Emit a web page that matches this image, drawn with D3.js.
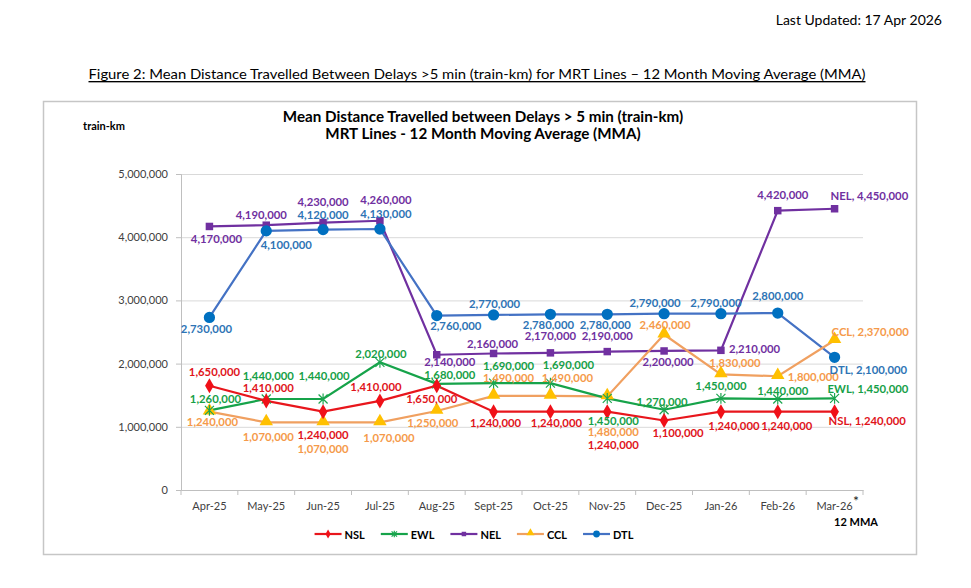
<!DOCTYPE html>
<html><head><meta charset="utf-8">
<script src="https://cdn.jsdelivr.net/npm/d3@7"></script>
<style>body{margin:0;background:#fff} svg{display:block}</style>
</head><body>
<svg id="c" width="971" height="588"></svg>
<script>
// ---------- DATA ----------
const months = ["Apr-25","May-25","Jun-25","Jul-25","Aug-25","Sept-25","Oct-25","Nov-25","Dec-25","Jan-26","Feb-26","Mar-26"];
const seriesNames = ["NSL","EWL","NEL","CCL","DTL"];
const nsl = [1650000,1410000,1240000,1410000,1650000,1240000,1240000,1240000,1100000,1240000,1240000,1240000];
const ewl = [1260000,1440000,1440000,2020000,1680000,1690000,1690000,1450000,1270000,1450000,1440000,1450000];
const nel = [4170000,4190000,4230000,4260000,2140000,2160000,2170000,2190000,2200000,2210000,4420000,4450000];
const ccl = [1240000,1070000,1070000,1070000,1250000,1490000,1490000,1480000,2460000,1830000,1800000,2370000];
const dtl = [2730000,4100000,4120000,4130000,2760000,2770000,2780000,2780000,2790000,2790000,2800000,2100000];
const yTicks = [0,1000000,2000000,3000000,4000000,5000000];

// ---------- STYLE / LABEL PLACEMENT ----------
const style = {
  NSL:{line:"#e8161c", marker:"#f01018", text:"#e0141b", shape:"diamond"},
  EWL:{line:"#16a34a", marker:"#1ca650", text:"#16a047", shape:"star"},
  NEL:{line:"#7030a0", marker:"#7030a0", text:"#7030a0", shape:"square"},
  CCL:{line:"#f0a060", marker:"#ffc000", text:"#f59a4a", shape:"triangle"},
  DTL:{line:"#4472c4", marker:"#0070c0", text:"#2e74b5", shape:"circle"}
};
// [dx, dy, anchor] relative to each point
const labelPos = {
  NSL:[[5,-14],[2,-13],[0,23],[-4,-14],[-5,13],[2,11],[6,11],[6,32.5],[14,12],[13,14],[9,14],[-6,9,"start"]],
  EWL:[[6,-12],[2,-23],[1,-23],[1,-9],[13,-9],[15,-18],[18,-19],[6,22],[-2,-8],[0,-13],[5,-8],[-7,-10,"start"]],
  NEL:[[7,12],[-5,-11],[0,-21.5],[6,-21.5],[13,7],[-1,-10],[0,-17],[0,-16],[4,11],[8,-2,"start"],[5,-16],[-4,-13,"start"]],
  CCL:[[3,10],[2,14],[0,26],[9,15],[-4,11],[15,-18],[17,-18],[6,35.5],[1,-10],[14,-12],[10,0,"start"],[-3,-9,"start"]],
  DTL:[[-3,11],[20,14],[0,-15],[6,-15.5],[19,10],[1,-11],[-2,10],[-2,10],[-9,-11],[-5,-11],[0,-18],[-5,12,"start"]]
};

const dataBy = {NSL:nsl, EWL:ewl, NEL:nel, CCL:ccl, DTL:dtl};
const svg = d3.select("#c");
const FONT = "Lato, 'Open Sans', sans-serif";
svg.style("font-family", FONT);

// header texts
svg.append("text").attr("x",942).attr("y",19).attr("text-anchor","end")
  .attr("dominant-baseline","central").attr("font-size",14).attr("fill","#000")
  .text("Last Updated: 17 Apr 2026");
svg.append("text").attr("x",477).attr("y",74).attr("text-anchor","middle")
  .attr("dominant-baseline","central").attr("font-size",13.5).attr("fill","#000")
  .attr("textLength",777).attr("lengthAdjust","spacingAndGlyphs")
  .style("text-decoration","underline")
  .text("Figure 2: Mean Distance Travelled Between Delays >5 min (train-km) for MRT Lines \u2013 12 Month Moving Average (MMA)");

// frame
svg.append("rect").attr("x",43.5).attr("y",101.5).attr("width",873).attr("height",453)
  .attr("fill","none").attr("stroke","#c6c6c6").attr("stroke-width",1.5);

// chart titles
svg.append("text").attr("x",483).attr("y",116).attr("text-anchor","middle").attr("dominant-baseline","central")
  .attr("font-size",15.2).attr("font-weight","bold").attr("fill","#000")
  .text("Mean Distance Travelled between Delays > 5 min (train-km)");
svg.append("text").attr("x",483).attr("y",133).attr("text-anchor","middle").attr("dominant-baseline","central")
  .attr("font-size",15.2).attr("font-weight","bold").attr("fill","#000")
  .text("MRT Lines - 12 Month Moving Average (MMA)");
svg.append("text").attr("x",104).attr("y",125).attr("text-anchor","middle").attr("dominant-baseline","central")
  .attr("font-size",11).attr("font-weight","bold").attr("fill","#000").text("train-km");

// scales
const x = d3.scaleBand().domain(months).range([181,863]).padding(0);
const y = d3.scaleLinear().domain([0,5000000]).range([490,174]);
const cx = m => x(m) + x.bandwidth()/2;

// gridlines
svg.append("g").attr("transform","translate(181,0)")
  .call(d3.axisLeft(y).tickValues(yTicks.slice(1)).tickSize(-682).tickFormat(""))
  .call(g=>g.select(".domain").remove())
  .call(g=>g.selectAll("line").attr("stroke","#d9d9d9"));

// y axis
svg.append("g").attr("transform","translate(181,0)")
  .call(d3.axisLeft(y).tickValues(yTicks).tickSize(5).tickPadding(8).tickFormat(d3.format(",")))
  .call(g=>g.select(".domain").attr("stroke","#bfbfbf"))
  .call(g=>g.selectAll("line").attr("stroke","#bfbfbf"))
  .call(g=>g.selectAll("text").attr("font-size",11).attr("fill","#404040").attr("font-family",FONT));

// x axis
const xa = svg.append("g").attr("transform","translate(0,490)")
  .call(d3.axisBottom(x).tickSize(0).tickPadding(12))
  .call(g=>g.select(".domain").attr("stroke","#bfbfbf"))
  .call(g=>g.selectAll("text").attr("font-size",11).attr("fill","#404040").attr("font-family",FONT));
const bounds = months.map(m=>x(m)).concat([x(months[months.length-1])+x.bandwidth()]);
xa.selectAll("line.bt").data(bounds).enter().append("line").attr("class","bt")
  .attr("x1",d=>d).attr("x2",d=>d).attr("y1",0).attr("y2",5).attr("stroke","#bfbfbf");
svg.append("text").attr("x",853).attr("y",506).attr("font-size",14).attr("fill","#222").text("*");
svg.append("text").attr("x",856).attr("y",521).attr("text-anchor","middle").attr("dominant-baseline","central")
  .attr("font-size",11).attr("font-weight","bold").attr("fill","#000").text("12 MMA");

// marker drawing
function marker(g, shape, color, s) {
  if (shape==="star") {
    const r = 4.5*s;
    g.append("path").attr("d",`M${-r},${-r}L${r},${r}M${-r},${r}L${r},${-r}M0,${-r*1.2}L0,${r*1.2}`)
      .attr("stroke",color).attr("stroke-width",1.2).attr("fill","none");
    return;
  }
  const map = {diamond:[d3.symbolDiamond,65], square:[d3.symbolSquare,56], triangle:[d3.symbolTriangle,78], circle:[d3.symbolCircle,100]};
  const [t, size] = map[shape];
  g.append("path").attr("d", d3.symbol().type(t).size(size*s*s)()).attr("fill",color)
    .attr("transform", shape==="triangle" ? "translate(0,-1)" : null);
}

const lineGen = d3.line().x((d,i)=>cx(months[i])).y(d=>y(d));
const drawOrder = ["NEL","DTL","CCL","EWL","NSL"];
drawOrder.forEach(name=>{
  const st = style[name], vals = dataBy[name];
  svg.append("path").datum(vals).attr("d",lineGen).attr("fill","none")
    .attr("stroke",st.line).attr("stroke-width",2.2);
});
drawOrder.forEach(name=>{
  const st = style[name], vals = dataBy[name];
  vals.forEach((v,i)=>{
    const g = svg.append("g").attr("transform",`translate(${cx(months[i])},${y(v)})`);
    marker(g, st.shape, st.marker, 1);
  });
});
// labels
seriesNames.forEach(name=>{
  const st = style[name], vals = dataBy[name];
  vals.forEach((v,i)=>{
    const p = labelPos[name][i];
    const last = i===vals.length-1;
    svg.append("text").attr("x",cx(months[i])+p[0]).attr("y",y(v)+p[1])
      .attr("text-anchor",p[2]||"middle").attr("dominant-baseline","central")
      .attr("font-size",11.3).attr("font-weight","bold").attr("fill",st.text)
      .text((last? name+", " : "") + d3.format(",")(v));
  });
});

// legend
const leg = svg.append("g");
let lx = 0;
seriesNames.forEach(name=>{
  const st = style[name];
  const g = leg.append("g").attr("transform",`translate(${lx},0)`);
  g.append("line").attr("x1",0).attr("x2",27).attr("y1",0).attr("y2",0).attr("stroke",st.line).attr("stroke-width",2.2);
  const mg = g.append("g").attr("transform","translate(13.5,0)");
  marker(mg, st.shape, st.marker, 0.6);
  const t = g.append("text").attr("x",30).attr("y",0).attr("dominant-baseline","central")
    .attr("font-size",11).attr("font-weight","bold").attr("fill","#000").text(name);
  lx += 30 + t.node().getComputedTextLength() + 16;
});
const legW = lx - 16;
leg.attr("transform",`translate(${474 - legW/2},534)`);
</script>
</body></html>
